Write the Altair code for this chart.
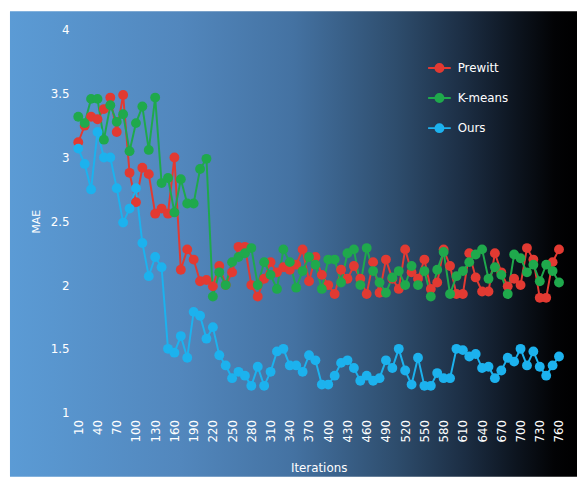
import altair as alt
import pandas as pd

iterations = [10, 20, 30, 40, 50, 60, 70, 80, 90, 100,
              110, 120, 130, 140, 150, 160, 170, 180, 190, 200,
              210, 220, 230, 240, 250, 260, 270, 280, 290, 300,
              310, 320, 330, 340, 350, 360, 370, 380, 390, 400,
              410, 420, 430, 440, 450, 460, 470, 480, 490, 500,
              510, 520, 530, 540, 550, 560, 570, 580, 590, 600,
              610, 620, 630, 640, 650, 660, 670, 680, 690, 700,
              710, 720, 730, 740, 750, 760]

prewitt = [3.12, 3.25, 3.32, 3.30, 3.38, 3.47, 3.20, 3.49, 2.88, 2.65,
           2.92, 2.87, 2.56, 2.60, 2.56, 3.00, 2.12, 2.28, 2.20, 2.03,
           2.04, 1.99, 2.15, 2.00, 2.10, 2.30, 2.30, 2.00, 1.91, 2.05,
           2.18, 2.10, 2.14, 2.12, 2.16, 2.28, 2.03, 2.22, 2.08, 2.00,
           1.93, 2.12, 2.05, 2.15, 2.05, 1.93, 2.18, 1.94, 2.20, 2.05,
           1.97, 2.28, 2.10, 2.05, 2.20, 1.97, 2.02, 2.28, 2.15, 1.93,
           1.93, 2.25, 2.06, 1.95, 1.95, 2.25, 2.10, 1.99, 2.05, 2.00,
           2.29, 2.20, 1.90, 1.90, 2.18, 2.28]

kmeans = [3.32, 3.27, 3.46, 3.46, 3.14, 3.41, 3.28, 3.34, 3.05, 3.27,
          3.40, 3.06, 3.47, 2.80, 2.84, 2.57, 2.83, 2.64, 2.64, 2.91,
          2.99, 1.91, 2.10, 2.00, 2.18, 2.22, 2.25, 2.29, 2.00, 2.18,
          2.08, 1.97, 2.28, 2.18, 1.98, 2.11, 2.22, 2.16, 1.97, 2.20,
          2.20, 2.02, 2.25, 2.28, 2.00, 2.29, 2.11, 2.02, 1.94, 2.06,
          2.11, 2.00, 2.15, 2.00, 2.11, 1.91, 2.12, 2.26, 1.93, 2.07,
          2.11, 2.18, 2.24, 2.28, 2.05, 2.14, 2.08, 1.93, 2.24, 2.21,
          2.10, 2.16, 2.03, 2.16, 2.11, 2.02]

ours = [3.07, 2.95, 2.75, 3.20, 3.00, 3.00, 2.76, 2.49, 2.60, 2.76,
        2.33, 2.07, 2.22, 2.14, 1.50, 1.47, 1.60, 1.43, 1.79, 1.76,
        1.58, 1.67, 1.45, 1.37, 1.27, 1.32, 1.29, 1.21, 1.36, 1.21,
        1.32, 1.48, 1.50, 1.37, 1.37, 1.32, 1.45, 1.41, 1.22, 1.22,
        1.29, 1.39, 1.41, 1.35, 1.25, 1.29, 1.25, 1.27, 1.41, 1.35,
        1.50, 1.33, 1.22, 1.43, 1.21, 1.21, 1.31, 1.27, 1.27, 1.50,
        1.49, 1.44, 1.46, 1.35, 1.36, 1.27, 1.33, 1.43, 1.40, 1.50,
        1.37, 1.48, 1.36, 1.29, 1.37, 1.44]

series_names = ["Prewitt", "K-means", "Ours"]
series_colors = ["#e23a32", "#1fa94c", "#1cb2ee"]
x_tick_labels = [10, 40, 70, 100, 130, 160, 190, 220, 250, 280, 310, 340, 370,
                 400, 430, 460, 490, 520, 550, 580, 610, 640, 670, 700, 730, 760]
y_tick_values = [1, 1.5, 2, 2.5, 3, 3.5, 4]

rows = []
for name, vals in zip(series_names, [prewitt, kmeans, ours]):
    for it, v in zip(iterations, vals):
        rows.append({"Iterations": it, "MAE": v, "series": name})
df = pd.DataFrame(rows)

W, H = 494, 388
PAD = {"left": 68, "top": 19, "right": 15, "bottom": 65}
FONT = "DejaVu Sans"

bg_gradient = alt.Gradient(
    gradient="linear", x1=0, x2=1, y1=0, y2=0,
    stops=[
        alt.GradientStop(offset=0.0, color="#5b9bd5"),
        alt.GradientStop(offset=0.3, color="#5287bd"),
        alt.GradientStop(offset=0.5, color="#4472a2"),
        alt.GradientStop(offset=0.68, color="#2e4d6d"),
        alt.GradientStop(offset=0.8, color="#1c2e44"),
        alt.GradientStop(offset=0.89, color="#0d1520"),
        alt.GradientStop(offset=0.96, color="#020305"),
        alt.GradientStop(offset=1.0, color="#000000"),
    ],
)

background = alt.Chart(pd.DataFrame({"a": [0]})).mark_rect(fill=bg_gradient).encode(
    x=alt.value(-66), x2=alt.value(W + PAD["right"]),
    y=alt.value(-19), y2=alt.value(H + PAD["bottom"]),
)

x_enc = alt.X(
    "Iterations:O", sort=iterations,
    scale=alt.Scale(type="point", padding=0.5),
    axis=alt.Axis(values=x_tick_labels, labelAngle=270, labelColor="white",
                  labelFontSize=12, labelFont=FONT, labelPadding=7,
                  ticks=False, domain=False, grid=False, zindex=1,
                  title="Iterations", titleColor="white", titleFont=FONT,
                  titleFontSize=12, titleFontWeight="normal", titlePadding=21),
)
y_enc = alt.Y(
    "MAE:Q",
    scale=alt.Scale(domain=[1, 4], nice=False, zero=False),
    axis=alt.Axis(values=y_tick_values, format="~g", labelColor="white",
                  labelFontSize=12, labelFont=FONT, labelPadding=6,
                  ticks=False, domain=False, grid=False, zindex=1,
                  title="MAE", titleColor="white", titleFont=FONT,
                  titleFontSize=11, titleFontWeight="normal", titlePadding=9),
)

color_scale = alt.Scale(domain=series_names, range=series_colors)
legend_symbol = "M-1,0L1,0M0.35,0A0.35,0.35,0,1,1,-0.35,0A0.35,0.35,0,1,1,0.35,0Z"

lines = alt.Chart(df).mark_line(strokeWidth=2).encode(
    x=x_enc, y=y_enc,
    color=alt.Color("series:N", scale=color_scale, sort=series_names,
                    legend=alt.Legend(title=None, orient="none", legendX=357, legendY=26,
                                      symbolType=legend_symbol, symbolSize=529,
                                      symbolStrokeWidth=2,
                                      labelColor="white", labelFontSize=12, labelFont=FONT,
                                      labelOffset=6, rowPadding=9.5, padding=0, zindex=2)),
    detail="series:N",
)

points = alt.Chart(df).mark_circle(size=100, opacity=1).encode(
    x=x_enc, y=y_enc,
    color=alt.Color("series:N", scale=color_scale, sort=series_names),
)

chart = alt.layer(background, lines, points).properties(
    width=W, height=H, autosize="none", padding=PAD,
).configure_view(stroke=None)

chart.save("out.html", embed_options={"renderer": "svg", "actions": False})
